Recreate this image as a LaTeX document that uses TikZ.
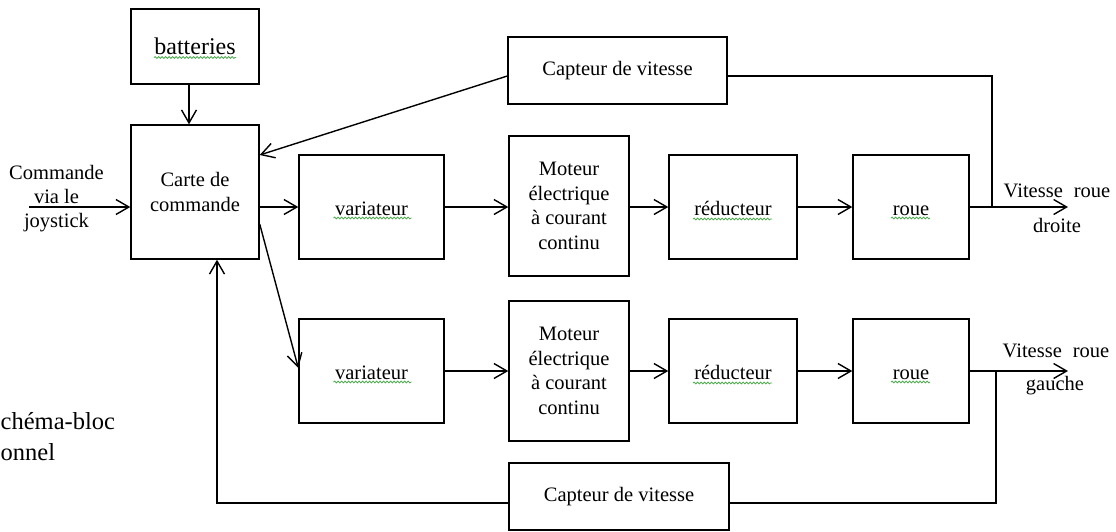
\documentclass[tikz,border=0pt]{standalone}
\usepackage{fontspec}
\setmainfont{Liberation Serif}
\usetikzlibrary{arrows.meta,decorations.pathmorphing}
\definecolor{spell}{RGB}{80,170,80}
\begin{document}
\begin{tikzpicture}[x=1pt,y=-1pt, line width=1.4pt,
  box/.style={draw, line width=1.4pt, inner sep=0pt, align=center, font=\fontsize{20.5}{24.5}\selectfont},
  one/.style={text height=16pt, text depth=0pt},
  arr/.style={-{Straight Barb[length=13pt,width=15pt]}},
  squig/.style={draw=spell, line width=0.8pt, decorate, decoration={snake, amplitude=0.9pt, segment length=3.5pt}},
  lbl/.style={inner sep=0pt, align=center, font=\fontsize{20.5}{24}\selectfont},
  side/.style={inner sep=0pt, anchor=base west, font=\fontsize{24.5}{31}\selectfont}]
\useasboundingbox (0,0) rectangle (1116,531);

% boxes
\node[box, minimum width=128pt, minimum height=75pt, font=\fontsize{24}{28}\selectfont] (bat) at (195,46.5) {batteries};
\node[box, minimum width=128pt, minimum height=134pt] (carte) at (195,192) {Carte de\\commande};
\node[box, minimum width=219pt, minimum height=67pt] (cap1) at (617.5,70.5) {Capteur de vitesse};
\node[box, one, minimum width=145pt, minimum height=104pt] (var1) at (371.5,207) {variateur};
\node[box, minimum width=120pt, minimum height=140pt] (mot1) at (569,206) {Moteur\\électrique\\à courant\\continu};
\node[box, one, minimum width=128pt, minimum height=104pt] (red1) at (733,207) {réducteur};
\node[box, one, minimum width=116pt, minimum height=104pt] (roue1) at (911,207) {roue};
\node[box, one, minimum width=145pt, minimum height=104pt] (var2) at (371.5,371) {variateur};
\node[box, minimum width=120pt, minimum height=140pt] (mot2) at (569,371) {Moteur\\électrique\\à courant\\continu};
\node[box, one, minimum width=128pt, minimum height=104pt] (red2) at (733,371) {réducteur};
\node[box, one, minimum width=116pt, minimum height=104pt] (roue2) at (911,371) {roue};
\node[box, minimum width=220pt, minimum height=67pt] (cap2) at (619,496.5) {Capteur de vitesse};

% labels
\node[lbl] (joy) at (56.5,199) {Commande\\via le\\joystick};
\node[lbl, anchor=base] (vr1) at (1057,197) {Vitesse\hspace{11pt}roue};
\node[lbl, anchor=base] (dr) at (1057,232) {droite};
\node[lbl, anchor=base] (vr2) at (1056,357) {Vitesse\hspace{11pt}roue};
\node[lbl, anchor=base] (ga) at (1055,390) {gauche};
\node[side] (s1) at (0,429) {chéma-bloc};
\node[side] (s2) at (0,460) {onnel};

% coordinates
\coordinate (jin) at (29,207);
\coordinate (out1) at (1068,207);
\coordinate (out2) at (1068,371);
\coordinate (b1) at (992,207);
\coordinate (b2) at (996,371);

% connectors
\draw[arr] ([xshift=-6pt]bat.south) -- ([xshift=-6pt]carte.north);
\draw[arr] (jin) -- (jin -| carte.west);
\draw[arr] (var1.west -| carte.east) -- (var1.west);
\draw[arr] (var1.east) -- (var1.east -| mot1.west);
\draw[arr] (red1.west -| mot1.east) -- (red1.west);
\draw[arr] (red1.east) -- (roue1.west);
\draw[arr] (roue1.east) -- (out1);
\draw (b1) |- ([yshift=-5.5pt]cap1.east);
\draw[arr] ([yshift=-5.5pt]cap1.west) -- ([yshift=37pt]carte.east);
\draw[arr] ([yshift=-32pt]carte.east) -- ([yshift=3pt]var2.west);
\draw[arr] (var2.east) -- (var2.east -| mot2.west);
\draw[arr] (red2.west -| mot2.east) -- (red2.west);
\draw[arr] (red2.east) -- (roue2.west);
\draw[arr] (roue2.east) -- (out2);
\draw (b2) |- ([yshift=-6.5pt]cap2.east);
\draw[arr] ([yshift=-6.5pt]cap2.west) -| ([xshift=22pt]carte.south);

% spell-check squiggles
\draw[squig] ([shift={(-41,11)}]bat.center) -- ++(82,0);
\draw[squig] ([shift={(-38,11)}]var1.center) -- ++(78,0);
\draw[squig] ([shift={(-38,11)}]var2.center) -- ++(78,0);
\draw[squig] ([shift={(-40,12)}]red1.center) -- ++(79,0);
\draw[squig] ([shift={(-40,12)}]red2.center) -- ++(79,0);
\draw[squig] ([shift={(-20,11)}]roue1.center) -- ++(39,0);
\draw[squig] ([shift={(-20,11)}]roue2.center) -- ++(39,0);
\end{tikzpicture}
\end{document}
